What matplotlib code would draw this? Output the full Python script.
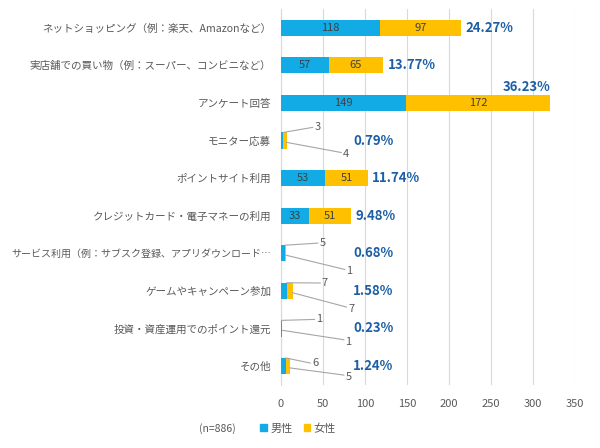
import matplotlib.pyplot as plt
from matplotlib.patches import Patch

plt.rcParams['font.family'] = ['Noto Sans CJK JP', 'DejaVu Sans']

cats = ['ネットショッピング（例：楽天、Amazonなど）',
        '実店舗での買い物（例：スーパー、コンビニなど）',
        'アンケート回答',
        'モニター応募',
        'ポイントサイト利用',
        'クレジットカード・電子マネーの利用',
        'サービス利用（例：サブスク登録、アプリダウンロード…',
        'ゲームやキャンペーン参加',
        '投資・資産運用でのポイント還元',
        'その他']
male = [118, 57, 149, 3, 53, 33, 5, 7, 1, 6]
female = [97, 65, 172, 4, 51, 51, 1, 7, 1, 5]
pct = ['24.27%', '13.77%', '36.23%', '0.79%', '11.74%', '9.48%',
       '0.68%', '1.58%', '0.23%', '1.24%']
xticks = [0, 50, 100, 150, 200, 250, 300, 350]

c_m = '#12ABE6'
c_f = '#FFC000'
c_pct = '#1D5FA6'
c_txt = '#595959'

# callout label spots for the thin bars: row -> (male x, male dy, female x, female dy)
callouts = {3: (40, -0.35, 74, 0.37),
            6: (46, -0.27, 78, 0.48),
            7: (49, -0.21, 80, 0.48),
            8: (42, -0.24, 77, 0.35),
            9: (37, -0.08, 77, 0.29)}

fig = plt.figure(figsize=(6, 4.48), dpi=100)
ax = fig.add_axes([0.468, 0.141, 0.49, 0.839])

y = list(range(len(cats)))
h = 0.43
ax.barh(y, male, height=h, color=c_m, label='男性', zorder=3)
ax.barh(y, female, height=h, left=male, color=c_f, label='女性', zorder=3)

for i in y:
    m, f = male[i], female[i]
    tot = m + f
    if i in callouts:
        mx, mdy, fx, fdy = callouts[i]
        ax.text(mx, i + mdy, str(m), ha='left', va='center', fontsize=8, color=c_txt)
        ax.plot([m, mx - 2], [i - h / 2, i + mdy], color='#A6A6A6', lw=0.8, zorder=4)
        ax.text(fx, i + fdy, str(f), ha='left', va='center', fontsize=8, color=c_txt)
        ax.plot([tot, fx - 2], [i + 0.05, i + fdy - 0.05], color='#A6A6A6', lw=0.8, zorder=4)
        ax.text(86, i, pct[i], ha='left', va='center', fontsize=9.5,
                fontweight='bold', color=c_pct)
    else:
        ax.text(m / 2, i, str(m), ha='center', va='center', fontsize=8, color='#404040', zorder=5)
        ax.text(m + f / 2, i, str(f), ha='center', va='center', fontsize=8, color='#404040', zorder=5)
        if tot > 300:
            ax.text(tot, i - 0.43, pct[i], ha='right', va='center', fontsize=9.5,
                    fontweight='bold', color=c_pct)
        else:
            ax.text(tot + 5, i, pct[i], ha='left', va='center', fontsize=9.5,
                    fontweight='bold', color=c_pct)

ax.set_yticks(y)
ax.set_yticklabels(cats, fontsize=7.6, color=c_txt)
# the long one is squeezed a bit so it fits
ax.get_yticklabels()[6].set_fontsize(7.2)
ax.set_ylim(len(cats) - 0.5, -0.5)
ax.set_xlim(0, 350)
ax.set_xticks(xticks)
ax.tick_params(axis='x', labelsize=8, colors=c_txt, length=0, pad=10)
ax.tick_params(axis='y', length=0, pad=7)
ax.grid(axis='x', color='#D9D9D9', lw=0.8, zorder=0)
for s in ['top', 'right', 'bottom']:
    ax.spines[s].set_visible(False)
ax.spines['left'].set_color('#D9D9D9')

fig.text(0.362, 0.044, '(n=886)', ha='center', va='center', fontsize=7.5, color=c_txt)
handles = [Patch(color=c_m), Patch(color=c_f)]
fig.legend(handles, ['男性', '女性'], ncol=2, loc='center', bbox_to_anchor=(0.497, 0.044),
           frameon=False, fontsize=8, handlelength=0.6, handleheight=0.6,
           handletextpad=0.3, columnspacing=1.0, labelcolor=c_txt)

fig.savefig('out.png', dpi=100)
